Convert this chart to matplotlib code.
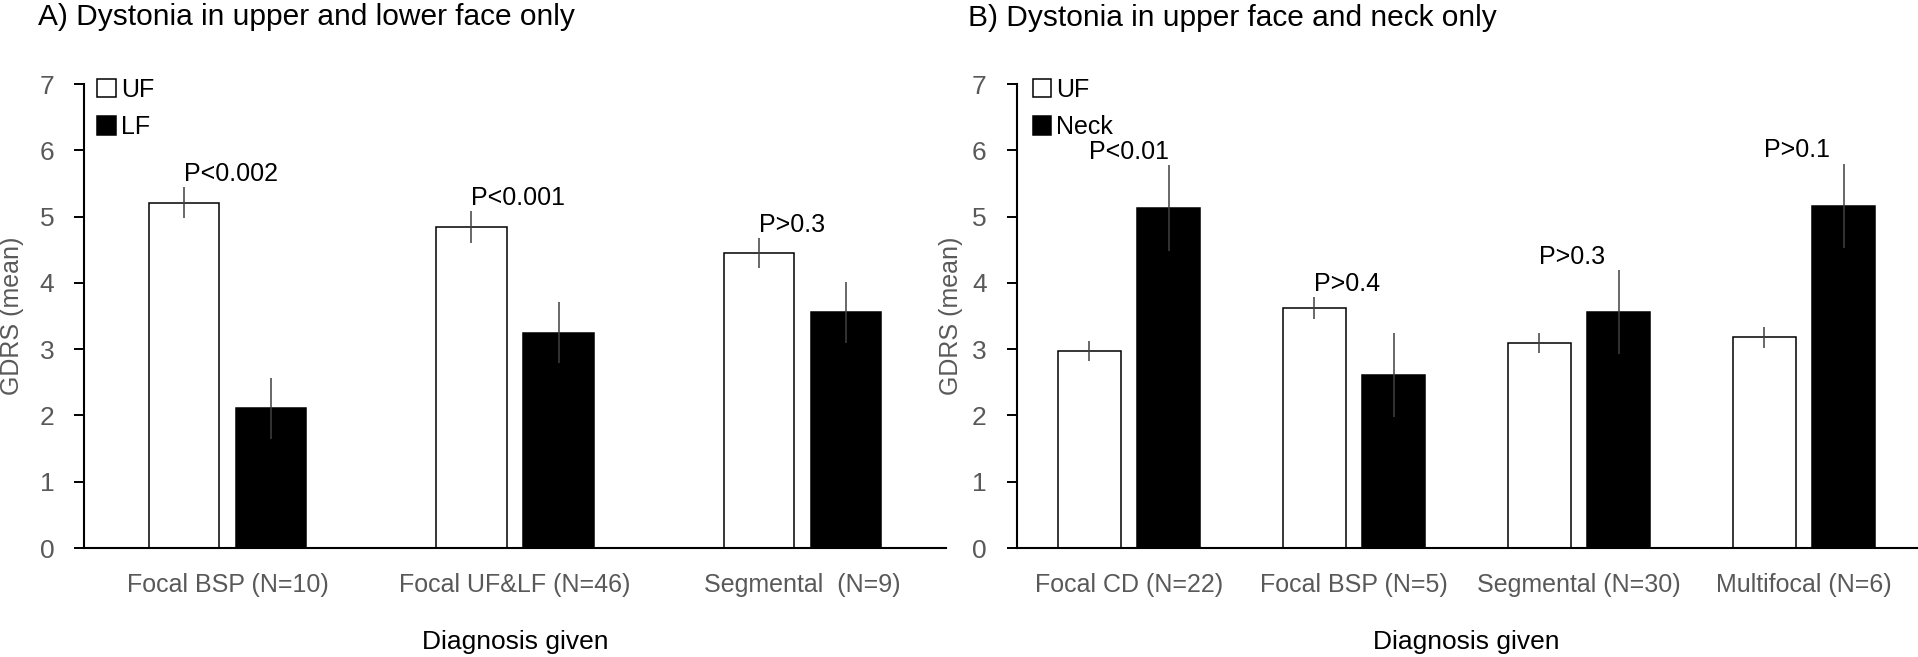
import numpy as np
import matplotlib
matplotlib.use('Agg')
import matplotlib.pyplot as plt
from matplotlib.patches import Patch

plt.rcParams['font.family'] = ['Liberation Sans', 'DejaVu Sans']

# Panel A: upper face vs lower face
groups_a = ['Focal BSP (N=10)', 'Focal UF&LF (N=46)', 'Segmental  (N=9)']
uf_a = [5.21, 4.84, 4.45]
uf_a_err = [0.23, 0.24, 0.22]
lf_a = [2.11, 3.25, 3.56]
lf_a_err = [0.46, 0.46, 0.46]
p_a = ['P<0.002', 'P<0.001', 'P>0.3']

# Panel B: upper face vs neck
groups_b = ['Focal CD (N=22)', 'Focal BSP (N=5)', 'Segmental (N=30)', 'Multifocal (N=6)']
uf_b = [2.97, 3.62, 3.09, 3.18]
uf_b_err = [0.15, 0.17, 0.15, 0.16]
neck_b = [5.13, 2.61, 3.56, 5.16]
neck_b_err = [0.645, 0.64, 0.63, 0.64]
p_b = ['P<0.01', 'P>0.4', 'P>0.3', 'P>0.1']

grey = '#595959'
W, H = 1918, 657

fig = plt.figure(figsize=(W / 100, H / 100), dpi=100)


def panel(rect, groups, v1, e1, v2, e2, labels, pvals, width, off, leg_x, ylab_x):
    ax = fig.add_axes(rect)
    x = np.arange(len(groups))
    ax.bar(x - off / 2, v1, width, color='white', edgecolor='black', linewidth=1.1, zorder=2)
    ax.bar(x + off / 2, v2, width, color='black', edgecolor='black', linewidth=1.1, zorder=2)
    ax.errorbar(x - off / 2, v1, yerr=e1, fmt='none', ecolor='#404040', elinewidth=1.1, capsize=0, zorder=3)
    ax.errorbar(x + off / 2, v2, yerr=e2, fmt='none', ecolor='#404040', elinewidth=1.1, capsize=0, zorder=3)
    tops = np.maximum(np.array(v1) + np.array(e1), np.array(v2) + np.array(e2))
    for xi, t, p in zip(x, tops, pvals):
        ax.text(xi - off / 2, t + 0.2, p, ha='left', va='center', fontsize=18, color='black')

    ax.set_xlim(-0.5, len(groups) - 0.5)
    ax.set_ylim(0, 7)
    ax.set_yticks(range(0, 8))
    ax.set_xticks(x)
    ax.set_xticklabels(groups)
    ax.tick_params(axis='y', direction='out', length=7.5, width=1.4, pad=14,
                   labelsize=19, labelcolor=grey)
    ax.tick_params(axis='x', length=0, pad=18, labelsize=18, labelcolor=grey)
    for s in ['top', 'right']:
        ax.spines[s].set_visible(False)
    for s in ['left', 'bottom']:
        ax.spines[s].set_linewidth(1.5)
    ax.set_xlabel('Diagnosis given', fontsize=19, labelpad=24)
    ax.text(ylab_x, 0.5, 'GDRS (mean)', transform=ax.transAxes, rotation=90,
            ha='center', va='center', fontsize=18, color=grey)

    handles = [Patch(facecolor='white', edgecolor='black', linewidth=1.1),
               Patch(facecolor='black', edgecolor='black', linewidth=1.1)]
    ax.legend(handles, labels, loc='upper left', bbox_to_anchor=(leg_x, 1.014),
              frameon=False, fontsize=18, handlelength=0.75, handleheight=0.75,
              handletextpad=0.2, labelspacing=0.55, borderpad=0, borderaxespad=0)
    return ax


ax_a = panel([84 / W, 109 / H, 862 / W, 464 / H], groups_a, uf_a, uf_a_err, lf_a, lf_a_err,
             ['UF', 'LF'], p_a, 0.244, 0.303, 0.015, -0.083)
ax_b = panel([1016.5 / W, 109 / H, 900 / W, 464 / H], groups_b, uf_b, uf_b_err, neck_b, neck_b_err,
             ['UF', 'Neck'], p_b, 0.28, 0.355, 0.018, -0.073)

fig.text(38 / W, 1 - 17 / H, 'A) Dystonia in upper and lower face only', ha='left', va='center', fontsize=21.5)
fig.text(968 / W, 1 - 18 / H, 'B) Dystonia in upper face and neck only', ha='left', va='center', fontsize=21.5)

fig.savefig('out.png', dpi=100, facecolor='white')
